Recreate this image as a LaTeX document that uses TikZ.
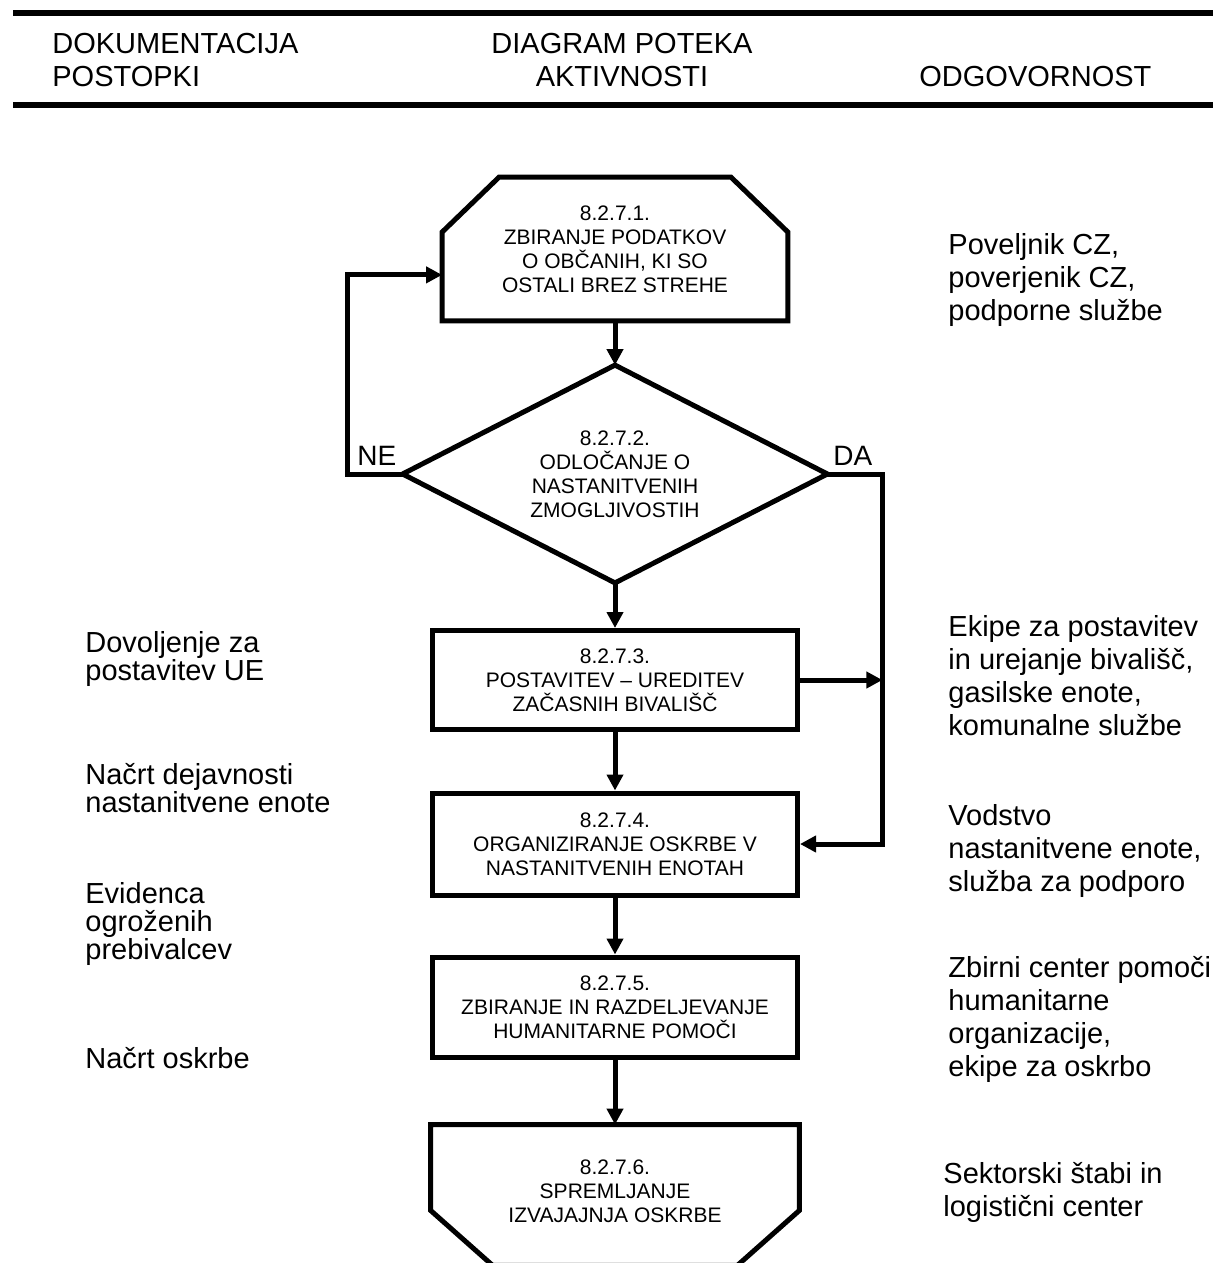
\documentclass[tikz,border=0pt]{standalone}
\usepackage{fontspec}
\setmainfont{Liberation Sans}
\usetikzlibrary{arrows.meta, calc}

\begin{document}
\begin{tikzpicture}[x=0.5pt, y=-0.5pt,
    outline/.style={line width=2.5pt},
    flow/.style={line width=2.5pt, -{Triangle[length=8pt, width=8pt]}},
    stage/.style={inner sep=0pt, align=center, font=\fontsize{10.5}{12}\selectfont},
    head/.style={inner sep=0pt, font=\fontsize{14.5}{16.5}\selectfont},
    note/.style={anchor=west, inner sep=0pt, align=left, font=\fontsize{14.5}{14}\selectfont},
    duty/.style={anchor=west, inner sep=0pt, align=left, font=\fontsize{14.5}{16.5}\selectfont},
    answer/.style={anchor=base west, inner sep=0pt, font=\fontsize{14}{16}\selectfont}]
    \useasboundingbox (0,0) rectangle (1213,1263);

    \draw[line width=3pt] (13,13) -- (1213,13);
    \draw[line width=3pt] (13,105) -- (1213,105);
    \node[head, anchor=west, align=left] (docs) at (52,60) {DOKUMENTACIJA\\POSTOPKI};
    \node[head, align=center] (steps) at (622,60) {DIAGRAM POTEKA\\AKTIVNOSTI};
    \node[head, anchor=base west] (resp) at (919,87) {ODGOVORNOST};

    \node[stage, minimum width=172.5pt, minimum height=71.5pt] (collect) at (615,249) {8.2.7.1.\\ZBIRANJE PODATKOV\\O OBČANIH, KI SO\\OSTALI BREZ STREHE};
    \node[stage, minimum width=212pt, minimum height=108.5pt] (decide) at (615,474) {8.2.7.2.\\ODLOČANJE O\\NASTANITVENIH\\ZMOGLJIVOSTIH};
    \node[stage, draw, outline, minimum width=182.5pt, minimum height=49.5pt] (setup) at (615,680) {8.2.7.3.\\POSTAVITEV -- UREDITEV\\ZAČASNIH BIVALIŠČ};
    \node[stage, draw, outline, minimum width=182.5pt, minimum height=51pt] (organise) at (615,844) {8.2.7.4.\\ORGANIZIRANJE OSKRBE V\\NASTANITVENIH ENOTAH};
    \node[stage, draw, outline, minimum width=182.5pt, minimum height=50pt] (aid) at (615,1007) {8.2.7.5.\\ZBIRANJE IN RAZDELJEVANJE\\HUMANITARNE POMOČI};
    \node[stage, minimum width=184pt, minimum height=66pt] (monitor) at (615,1191) {8.2.7.6.\\SPREMLJANJE\\IZVAJAJNJA OSKRBE};

    \draw[outline] (collect.south west) -- ($(collect.north west)+(0,55)$) -- ($(collect.north west)+(57,0)$)
        -- ($(collect.north east)+(-57,0)$) -- ($(collect.north east)+(0,55)$) -- (collect.south east) -- cycle;
    \draw[outline] (decide.north) -- (decide.east) -- (decide.south) -- (decide.west) -- cycle;
    \draw[outline] (monitor.north west) -- (monitor.north east) -- ($(monitor.south east)+(0,-47)$)
        -- ($(monitor.south east)+(-62,8)$) -- ($(monitor.south west)+(62,8)$) -- ($(monitor.south west)+(0,-47)$) -- cycle;

    \coordinate (da) at ($(decide.east)+(55,0)$);
    \draw[flow] (collect.south) -- (decide.north);
    \draw[flow] (decide.west) -- ++(-55,0) |- ($(collect.south west)!0.32!(collect.north west)$);
    \draw[flow] (decide.east) -- (da) |- (organise.east);
    \draw[flow] (decide.south) -- (setup.north);
    \draw[flow] (setup.east) -- (setup.east -| da);
    \draw[flow] (setup.south) -- (organise.north);
    \draw[flow] (organise.south) -- (aid.north);
    \draw[flow] (aid.south) -- (monitor.north);

    \node[answer] (no) at (357,465) {NE};
    \node[answer] (yes) at (833,465) {DA};

    \node[note] (permit) at (85,659) {Dovoljenje za\\postavitev UE};
    \node[note] (plan) at (85,788) {Načrt dejavnosti\\nastanitvene enote};
    \node[note] (record) at (85,924) {Evidenca\\ogroženih\\prebivalcev};
    \node[note] (supply) at (85,1058) {Načrt oskrbe};

    \node[duty] (command) at (948,280) {Poveljnik CZ,\\poverjenik CZ,\\podporne službe};
    \node[duty] (crews) at (948,676) {Ekipe za postavitev\\in urejanje bivališč,\\gasilske enote,\\komunalne službe};
    \node[duty] (lead) at (948,851) {Vodstvo\\nastanitvene enote,\\služba za podporo};
    \node[duty] (centre) at (948,1019) {Zbirni center pomoči\\humanitarne\\organizacije,\\ekipe za oskrbo};
    \node[duty] (staff) at (943,1192) {Sektorski štabi in\\logistični center};
\end{tikzpicture}
\end{document}
